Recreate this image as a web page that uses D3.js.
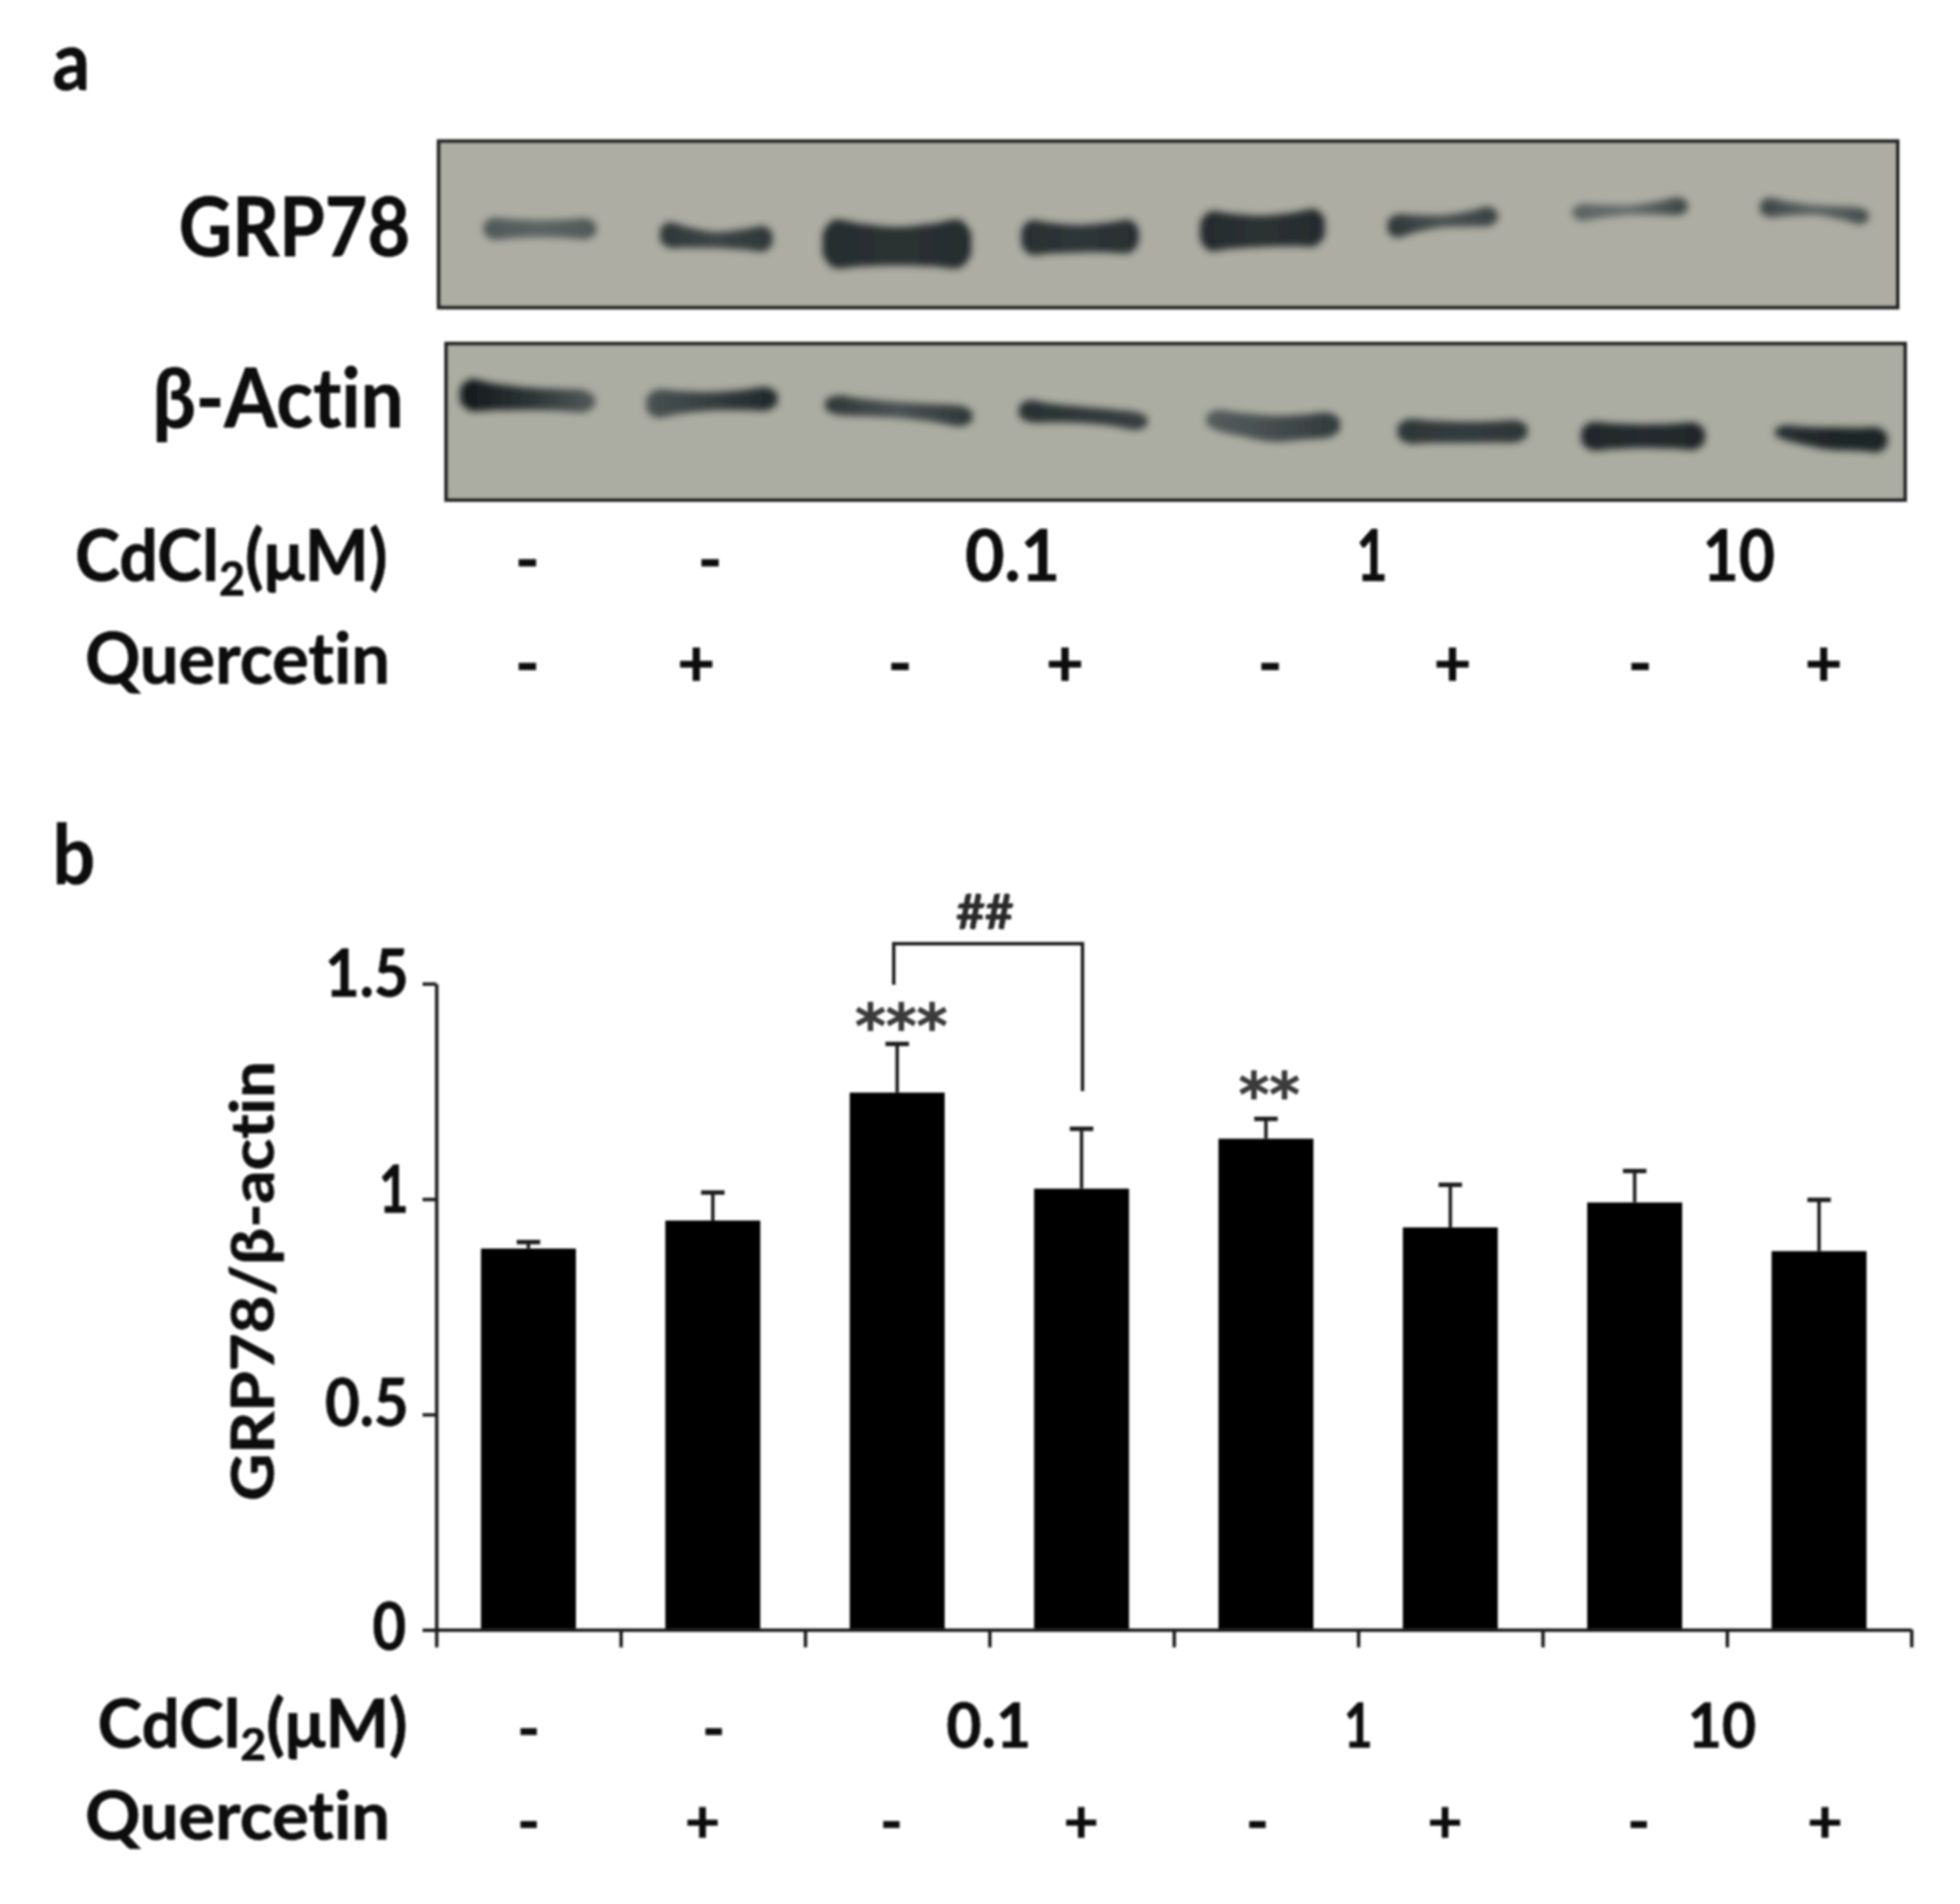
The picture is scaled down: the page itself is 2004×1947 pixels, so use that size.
<!DOCTYPE html>
<html><head><meta charset="utf-8">
<script src="https://cdn.jsdelivr.net/npm/d3@7/dist/d3.min.js"></script>
<style>html,body{margin:0;padding:0;background:#fff}svg{display:block}text{font-family:Lato,"Open Sans",sans-serif;font-weight:700;fill:#0c0c0c;stroke:#0c0c0c;stroke-width:.7;font-variant-ligatures:none}</style>
</head><body><svg id="c" width="2004" height="1947"></svg>
<script>
// ---- values ----
const categories = ["c1","c2","c3","c4","c5","c6","c7","c8"];
const grp78Mean = [0.885,0.95,1.247,1.024,1.14,0.934,0.992,0.879];
const grp78Upper = [0.90,1.015,1.36,1.163,1.186,1.033,1.065,0.998];
const yTicks = [0,0.5,1,1.5];
const yTickLabels = ["0","0.5","1","1.5"];
const cdcl2Labels = ["-","-","0.1","1","10"];
const quercetinLabels = ["-","+","-","+","-","+","-","+"];
// blot bands, in picture units: x0,x1, yLeft,yMid,yRight, thickLeft,thickMid,thickRight, grey left,mid,right
const grpBands = [
 [387,477,183,183,183,17,14,16,"#4f5858","#5c6564","#4f5858"],
 [528,618,188,192,191,20,13,20,"#2e3637","#3d4546","#2e3637"],
 [658,777,195,197,195,38,31,38,"#262c2e","#2b3133","#262c2e"],
 [817,911,190,191,189,27,22,26,"#272e30","#2f3638","#272e30"],
 [960,1060,185,185,182,31,25,29,"#252b2d","#2b3133","#252b2d"],
 [1110,1198,181,177,173,18,10,15,"#2e3536","#4a5252","#3a4142"],
 [1258,1350,170,168,165,13,8,14,"#5a6362","#666e6c","#3c4444"],
 [1408,1495,166,168,173,15,8,13,"#3e4646","#5c6463","#464e4e"]
];
const actinBands = [
 [368,476,316,319,321,25,18,17,"#14191b","#2a3233","#525a5a"],
 [517,622,323,321,319,22,15,18,"#4a5253","#353d3e","#1f2729"],
 [660,778,324,328,333,15,13,16,"#2e3637","#4a5253","#2e3637"],
 [815,918,329,332,337,17,13,14,"#2a3233","#2e3637","#3a4243"],
 [965,1072,336,343,340,16,21,19,"#555d5d","#454d4e","#31393a"],
 [1118,1222,345,346,345,19,17,17,"#2e3637","#333b3c","#2e3637"],
 [1265,1364,349,349,349,22,19,21,"#20272a","#252c2e","#20272a"],
 [1420,1510,346,351,352,11,18,19,"#2a3133","#1f2628","#1f2628"]
];
// ---------------------------------------
const svg = d3.select("#c");
const px = d3.scaleLinear().domain([0,1568]).range([0,2004]);
const defs = svg.append("defs");
defs.append("filter").attr("id","soft").attr("x","-5%").attr("y","-5%").attr("width","110%").attr("height","110%")
  .append("feGaussianBlur").attr("stdDeviation",1);
defs.append("filter").attr("id","band").attr("x","-20%").attr("y","-60%").attr("width","140%").attr("height","220%")
  .append("feGaussianBlur").attr("stdDeviation",3.6);
const root = svg.append("g").attr("filter","url(#soft)");

function label(str,x0,x1,base,size,opts={}){
  const t = root.append("text").attr("x",px(x0)).attr("y",px(base)).attr("font-size",size)
    .attr("textLength",px(x1)-px(x0)).attr("lengthAdjust","spacingAndGlyphs").text(str);
  if(opts.f) t.style("font-family",opts.f);
  if(opts.c) t.style("fill",opts.c).style("stroke",opts.c);
  return t;
}
function cd(x0,x1,base,size){
  const t = root.append("text").attr("x",px(x0)).attr("y",px(base)).attr("font-size",size)
    .attr("textLength",px(x1)-px(x0)).attr("lengthAdjust","spacingAndGlyphs");
  t.append("tspan").text("CdCl");
  t.append("tspan").attr("font-size",size*0.66).attr("dy",size*0.2).text("2");
  t.append("tspan").attr("dy",-size*0.2).text("(μM)");
}
function sign(str,xc,yc,size){
  root.append("text").attr("x",px(xc)).attr("y",px(yc)).attr("font-size",size)
    .attr("text-anchor","middle").attr("dominant-baseline","central").text(str);
}

// ---- blots ----
function blot(id,x0,x1,y0,y1,bands,bg){
  root.append("rect").attr("x",px(x0)).attr("y",px(y0)).attr("width",px(x1)-px(x0)).attr("height",px(y1)-px(y0))
    .attr("fill",bg).attr("stroke","#262626").attr("stroke-width",4);
  const area = d3.area().x(d=>px(d[0])).y0(d=>px(d[1]-d[2]/2)).y1(d=>px(d[1]+d[2]/2)).curve(d3.curveCatmullRom);
  bands.forEach((b,i)=>{
    const g = defs.append("linearGradient").attr("id",`${id}${i}`);
    [[0,b[8]],[50,b[9]],[100,b[10]]].forEach(s=>g.append("stop").attr("offset",s[0]+"%").attr("stop-color",s[1]));
  });
  root.append("g").attr("filter","url(#band)").selectAll("path").data(bands).join("path")
    .attr("fill",(b,i)=>`url(#${id}${i})`)
    .attr("d",b=>{
      const [a,e,yl,ym,yr,tl,tm,tr]=b, w=e-a;
      return area([[a,yl,tl*.45],[a+w*.07,yl,tl],[a+w*.25,(yl+ym)/2,(tl+tm)/2],[a+w*.5,ym,tm],[a+w*.75,(ym+yr)/2,(tm+tr)/2],[e-w*.07,yr,tr],[e,yr,tr*.45]]);
    });
}
blot("g",351,1518,113,246,grpBands,"#adada3");
blot("a",357,1524,275,400,actinBands,"#acada2");

label("a",42,72,72,84);
label("GRP78",143,328,205,84);
label("β-Actin",122,323,342,84);
cd(60,310,465,72);
label("Quercetin",68,312,547,72);
[422,568].forEach((x,i)=>sign(cdcl2Labels[i],x,446,66));
label(cdcl2Labels[2],772,848,465,72);
label(cdcl2Labels[3],1085,1110,465,72);
label(cdcl2Labels[4],1362,1420,465,72);
[422,557,720,852,1016,1162,1312,1459].forEach((x,i)=>sign(quercetinLabels[i],x,529,66));

// ---- bar chart ----
label("b",42,76,707,84);
const x = d3.scaleBand().domain(categories).range([px(349),px(1529)]).paddingInner(0.485).paddingOuter(0.2425);
const xEdge = d3.scaleLinear().domain([0,8]).range([px(349),px(1529)]);
const y = d3.scaleLinear().domain([0,1.5]).range([px(1304),px(787)]);

root.selectAll("rect.bar").data(categories).join("rect").attr("class","bar")
  .attr("x",d=>x(d)).attr("width",x.bandwidth())
  .attr("y",(d,i)=>y(grp78Mean[i])).attr("height",(d,i)=>y(0)-y(grp78Mean[i])).attr("fill","#000");
const err = root.append("g").attr("stroke","#1c1c1c").attr("stroke-width",3.5);
categories.forEach((c,i)=>{
  const cx=x(c)+x.bandwidth()/2;
  err.append("line").attr("x1",cx).attr("x2",cx).attr("y1",y(grp78Mean[i])).attr("y2",y(grp78Upper[i]));
  err.append("line").attr("x1",cx-12).attr("x2",cx+12).attr("y1",y(grp78Upper[i])).attr("y2",y(grp78Upper[i])).attr("stroke-width",4.5);
});
const yAxis = d3.axisLeft(y).tickValues(yTicks).tickFormat(()=>"").tickSize(14).tickSizeOuter(0);
const xAxis = d3.axisBottom(xEdge).tickValues(d3.range(0,9)).tickFormat(()=>"").tickSize(18).tickSizeOuter(0);
const gy = root.append("g").attr("transform",`translate(${px(349)},0)`).call(yAxis);
const gx = root.append("g").attr("transform",`translate(0,${px(1304)})`).call(xAxis);
[gy,gx].forEach(g=>{g.selectAll("path,line").attr("stroke","#1c1c1c").attr("stroke-width",3.5);});

label(yTickLabels[0],298,325,1320,66);
label(yTickLabels[1],260,327,1141,66);
label(yTickLabels[2],303,327,970,66);
label(yTickLabels[3],260,327,797,66);
// y title
root.append("text").attr("transform",`translate(${px(219)},${px(1025)}) rotate(-90)`)
  .attr("text-anchor","middle").attr("font-size",62).attr("textLength",px(352)).attr("lengthAdjust","spacingAndGlyphs")
  .text("GRP78/β-actin");

// significance
const br = d3.path();
br.moveTo(px(715),px(788)); br.lineTo(px(715),px(755)); br.lineTo(px(866),px(755)); br.lineTo(px(866),px(873));
root.append("path").attr("d",br.toString()).attr("fill","none").attr("stroke","#1c1c1c").attr("stroke-width",3.5);
label("##",765,811,743,50,{c:"#2a2a2a"});
label("***",684,758,838,62,{c:"#3a3a3a",f:"DejaVu Sans"});
label("**",991,1040,893,62,{c:"#3a3a3a",f:"DejaVu Sans"});

cd(78,326,1398,68);
label("Quercetin",68,312,1472,68);
[423,571].forEach((xc,i)=>sign(cdcl2Labels[i],xc,1381,62));
label(cdcl2Labels[2],757,825,1398,64);
label(cdcl2Labels[3],1075,1098,1398,64);
label(cdcl2Labels[4],1350,1405,1398,64);
[423,562,713,865,1006,1156,1311,1460].forEach((xc,i)=>sign(quercetinLabels[i],xc,1455,62));
</script></body></html>
